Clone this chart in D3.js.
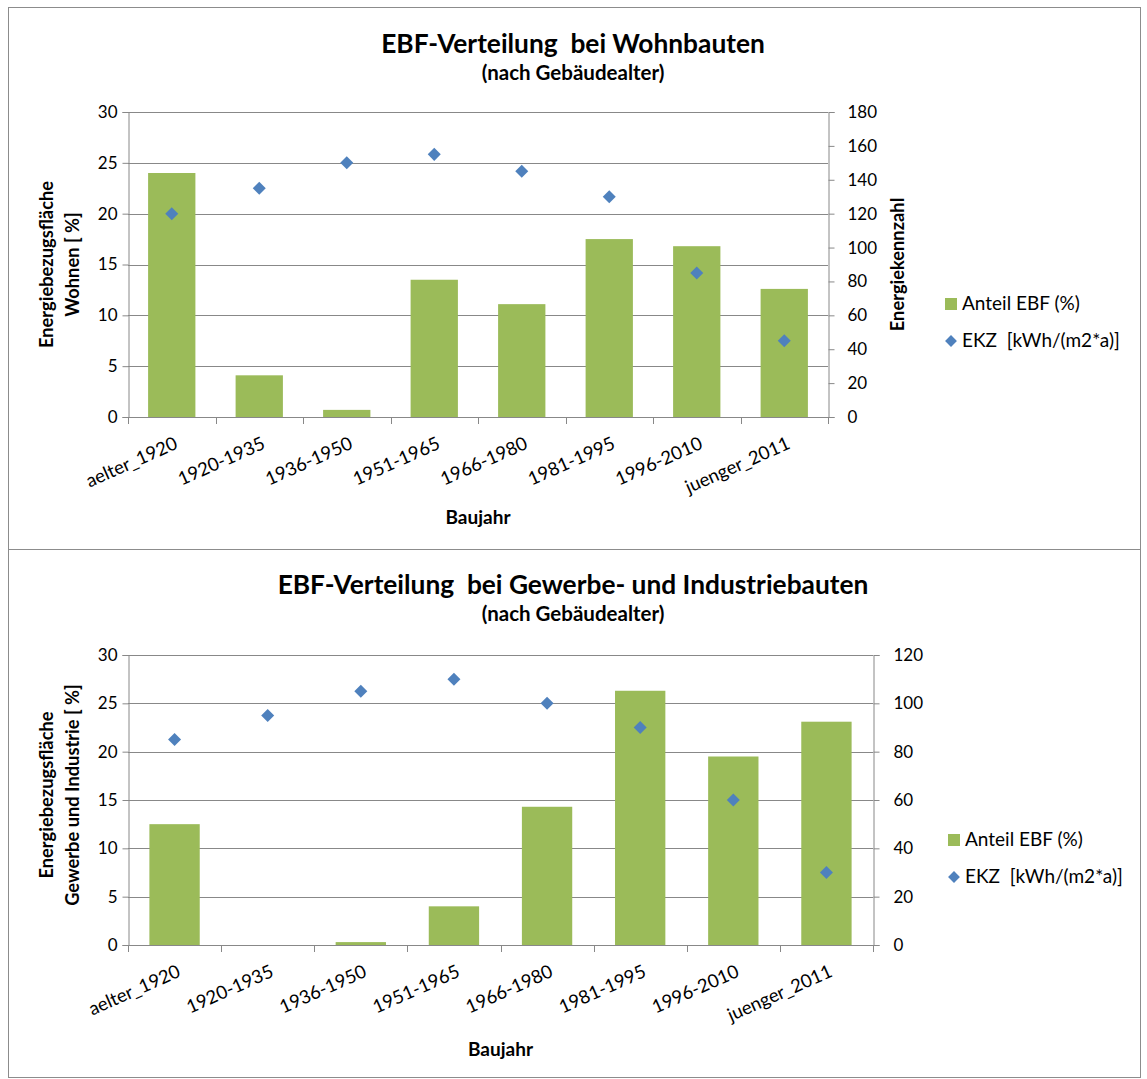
<!DOCTYPE html>
<html><head><meta charset="utf-8">
<script src="https://cdn.jsdelivr.net/npm/d3@7"></script>
<style>
body{margin:0;background:#fff;}
text{font-family:Lato,"Open Sans",sans-serif;fill:#000;white-space:pre;}
</style></head>
<body>
<svg id="c" width="1147" height="1079"></svg>
<script>
const categories = ["aelter_1920","1920-1935","1936-1950","1951-1965","1966-1980","1981-1995","1996-2010","juenger_2011"];
const wohnEBF = [24.0, 4.1, 0.7, 13.5, 11.1, 17.5, 16.8, 12.6];
const wohnEKZ = [120, 135, 150, 155, 145, 130, 85, 45];
const gewerbeEBF = [12.5, 0, 0.3, 4.0, 14.3, 26.3, 19.5, 23.1];
const gewerbeEKZ = [85, 95, 105, 110, 100, 90, 60, 30];
const leftTicks = [0, 5, 10, 15, 20, 25, 30];
const rightTicksWohn = [0, 20, 40, 60, 80, 100, 120, 140, 160, 180];
const rightTicksGewerbe = [0, 20, 40, 60, 80, 100, 120];
const legendLabels = ["Anteil EBF (%)", "EKZ  [kWh/(m2*a)]"];

const svg = d3.select("#c");
const GREEN = "#9BBB59", BLUE = "#4F81BD", GRID = "#888888";

function chart(o){
  const g = svg.append("g");
  g.append("rect").attr("x",o.box[0]+0.5).attr("y",o.box[1]+0.5).attr("width",o.box[2]).attr("height",o.box[3])
    .attr("fill","none").attr("stroke","#8c8c8c").attr("stroke-width",1);
  const x = d3.scaleBand().domain(categories).range([o.x0,o.x1]).paddingInner(0).paddingOuter(0);
  const yL = d3.scaleLinear().domain([0,30]).range([o.y1,o.y0]);
  const yR = d3.scaleLinear().domain([0,d3.max(o.rTicks)]).range([o.y1,o.y0]);
  // gridlines
  g.selectAll(".grid").data(leftTicks.filter(d=>d>0)).join("line")
    .attr("x1",o.x0).attr("x2",o.x1).attr("y1",d=>Math.round(yL(d))+0.5).attr("y2",d=>Math.round(yL(d))+0.5)
    .attr("stroke",GRID).attr("stroke-width",1);
  // bars
  const bw = x.bandwidth()/1.85;
  g.selectAll(".bar").data(o.ebf).join("rect")
    .attr("x",(d,i)=>x(categories[i])+x.bandwidth()/2-bw/2).attr("width",bw)
    .attr("y",d=>yL(d)).attr("height",d=>o.y1-yL(d)).attr("fill",GREEN);
  // left axis
  const la = g.append("g").attr("transform",`translate(${o.x0+0.5},0)`)
    .call(d3.axisLeft(yL).tickValues(leftTicks).tickSize(6).tickPadding(5));
  la.select(".domain").attr("stroke",GRID);
  la.selectAll(".tick line").attr("stroke",GRID);
  la.selectAll("text").style("font-size","17px").style("font-family","Lato");
  // right axis
  const ra = g.append("g").attr("transform",`translate(${o.x1+0.5},0)`)
    .call(d3.axisRight(yR).tickValues(o.rTicks).tickSize(6).tickPadding(o.rPad));
  ra.select(".domain").attr("stroke",GRID);
  ra.selectAll(".tick line").attr("stroke",GRID);
  ra.selectAll("text").style("font-size","17px").style("font-family","Lato");
  // bottom axis line + boundary ticks
  g.append("line").attr("x1",o.x0).attr("x2",o.x1).attr("y1",o.y1+0.5).attr("y2",o.y1+0.5).attr("stroke",GRID);
  const bounds = categories.map(c=>x(c)).concat([o.x1]);
  g.selectAll(".bt").data(bounds).join("line")
    .attr("x1",d=>Math.round(d)+0.5).attr("x2",d=>Math.round(d)+0.5).attr("y1",o.y1).attr("y2",o.y1+7).attr("stroke",GRID);
  g.selectAll(".cl").data(categories).join("text")
    .attr("transform",d=>`translate(${x(d)+x.bandwidth()/2+7},${o.y1+31}) rotate(-24)`)
    .attr("text-anchor","end").style("font-size","18.5px").text(d=>d);
  // points
  const sym = d3.symbol().type(d3.symbolSquare).size(85);
  g.selectAll(".pt").data(o.ekz).join("path")
    .attr("d",sym).attr("transform",(d,i)=>`translate(${x(categories[i])+x.bandwidth()/2},${yR(d)}) rotate(45)`)
    .attr("fill",BLUE);
  // titles
  const cx = 573;
  g.append("text").attr("x",cx).attr("y",o.titleY).attr("text-anchor","middle")
    .style("font-size","26.3px").style("font-weight","bold").text(o.title);
  g.append("text").attr("x",cx).attr("y",o.titleY+27).attr("text-anchor","middle")
    .style("font-size","20.5px").style("font-weight","bold").text("(nach Gebäudealter)");
  g.append("text").attr("x",(o.x0+o.x1)/2).attr("y",o.xTitleY).attr("text-anchor","middle")
    .style("font-size","19px").style("font-weight","bold").text("Baujahr");
  const ym = (o.y0+o.y1)/2 + o.ltShift;
  o.leftTitle.forEach((t,i)=>{
    g.append("text").attr("transform",`translate(${53+i*26},${ym}) rotate(-90)`).attr("text-anchor","middle")
      .style("font-size","18.3px").style("font-weight","bold").text(t);
  });
  if(o.rightTitle){
    g.append("text").attr("transform",`translate(${904},${(o.y0+o.y1)/2}) rotate(-90)`).attr("text-anchor","middle")
      .style("font-size","18.3px").style("font-weight","bold").text(o.rightTitle);
  }
  // legend
  const lg = g.append("g").attr("transform",`translate(${o.legX},${o.legY})`);
  lg.append("rect").attr("x",0).attr("y",-12).attr("width",12).attr("height",12).attr("fill",GREEN);
  lg.append("text").attr("x",17).attr("y",0).style("font-size","19px").text(legendLabels[0]);
  lg.append("path").attr("d",d3.symbol().type(d3.symbolSquare).size(70)).attr("transform","translate(6,-6) translate(0,37) rotate(45)").attr("fill",BLUE);
  lg.append("text").attr("x",17).attr("y",37).style("font-size","19px").text(legendLabels[1]);
}

chart({box:[8,7,1132,542], x0:128, x1:828, y0:112, y1:417, rTicks:rightTicksWohn, rPad:13, ltShift:0,
  ebf:wohnEBF, ekz:wohnEKZ, title:"EBF-Verteilung  bei Wohnbauten", titleY:53, xTitleY:524,
  leftTitle:["Energiebezugsfläche","Wohnen [ %]"], rightTitle:"Energiekennzahl", legX:945, legY:310});
chart({box:[8,549,1132,528], x0:128, x1:873, y0:655, y1:945, rTicks:rightTicksGewerbe, rPad:14, ltShift:-5,
  ebf:gewerbeEBF, ekz:gewerbeEKZ, title:"EBF-Verteilung  bei Gewerbe- und Industriebauten", titleY:594, xTitleY:1056,
  leftTitle:["Energiebezugsfläche","Gewerbe und Industrie [ %]"], rightTitle:null, legX:948, legY:846});
</script>
</body></html>
